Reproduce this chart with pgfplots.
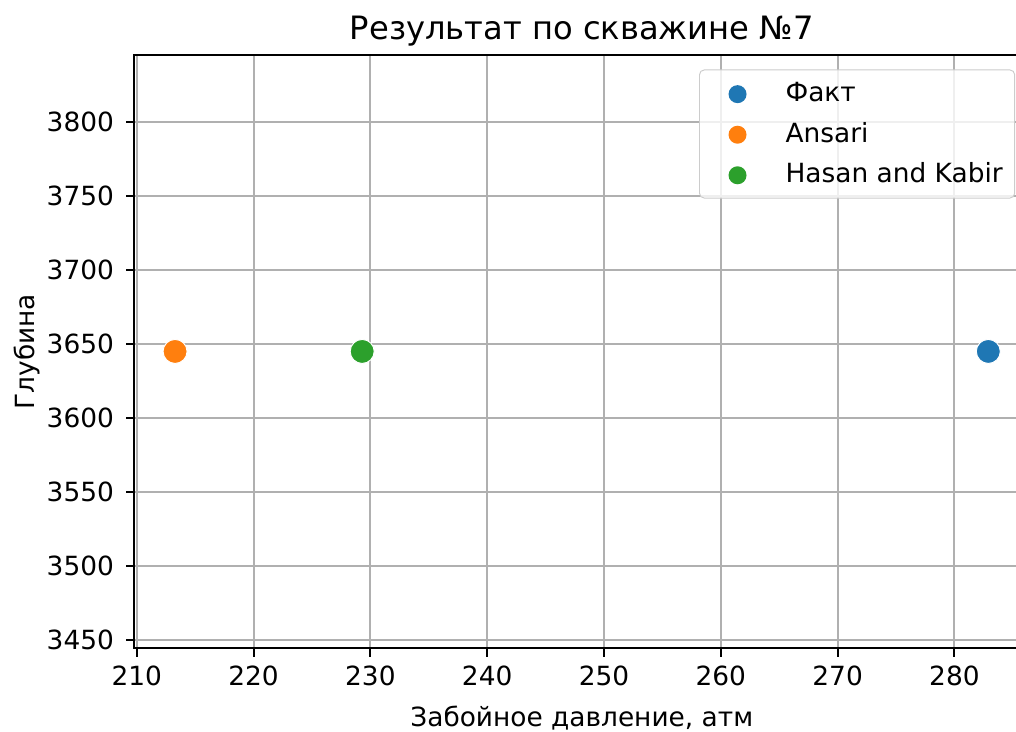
\documentclass[border=0pt]{standalone}
\usepackage{fontspec}
\setmainfont{DejaVu Sans}
\usepackage{pgfplots}
\pgfplotsset{compat=1.18}
\definecolor{tabblue}{HTML}{1F77B4}
\definecolor{taborange}{HTML}{FF7F0E}
\definecolor{tabgreen}{HTML}{2CA02C}
\definecolor{gridgray}{HTML}{B0B0B0}
\begin{document}
\begin{tikzpicture}
\useasboundingbox (-56.0pt,-34.5pt) rectangle (367.3pt,270.1pt);
\clip (-56.0pt,-34.5pt) rectangle (367.3pt,270.1pt);
\begin{axis}[
  at={(0pt,0pt)}, anchor=south west,
  scale only axis,
  width=372.8pt, height=247.1pt,
  xmin=209.8, xmax=286.4,
  ymin=3444.6, ymax=3845.0,
  xtick={210,220,...,280},
  ytick={3450,3500,...,3800},
  grid=major,
  major grid style={color=gridgray, line width=0.8pt},
  axis line style={line width=0.8pt, black},
  tick style={line width=0.8pt, black},
  major tick length=3.5pt,
  tick align=outside,
  xtick pos=bottom, ytick pos=left,
  /pgf/number format/assume math mode=true,
  /pgf/number format/1000 sep={},
  tick label style={font=\fontsize{11}{13}\selectfont},
  xticklabel style={yshift=-0.5pt},
  yticklabel style={xshift=-1.5pt},
  title={Результат по скважине №7},
  title style={at={(axis description cs:0.5,1)}, anchor=base, yshift=0.4pt, font=\fontsize{13.4}{15}\selectfont},
  xlabel={Забойное давление, атм},
  xlabel style={at={(axis description cs:0.5,0)}, anchor=base, yshift=-32.4pt, font=\fontsize{11}{13}\selectfont},
  ylabel={Глубина},
  ylabel style={at={(axis description cs:-0.1111,0.5)}, anchor=base, font=\fontsize{11}{13}\selectfont},
  legend cell align=left,
  legend style={at={(0.631,0.976)}, anchor=north west,
    draw=black!20, rounded corners=2pt, fill=white, fill opacity=0.8, text opacity=1,
    font=\fontsize{11}{13}\selectfont,
    inner xsep=5pt, inner ysep=4.5pt, row sep=6.3pt, column sep=0pt,
    nodes={inner sep=0pt, text height=8.7pt, text depth=1.9pt}},
  legend image code/.code={\path[draw=none,fill=none] (-10.85pt,0pt) -- (20pt,0pt); \fill[#1, draw=none, fill opacity=1] (0pt,-0.3pt) circle (3.75pt);},
]
\addplot[only marks, mark=*, mark size=5pt, color=tabblue, mark options={draw=white, line width=0.4pt, fill=tabblue}] coordinates {(282.9,3645)};
\addlegendentry{Факт}
\addplot[only marks, mark=*, mark size=5pt, color=taborange, mark options={draw=white, line width=0.4pt, fill=taborange}] coordinates {(213.28,3645)};
\addlegendentry{Ansari}
\addplot[only marks, mark=*, mark size=5pt, color=tabgreen, mark options={draw=white, line width=0.4pt, fill=tabgreen}] coordinates {(229.3,3645)};
\addlegendentry{Hasan and Kabir}
\end{axis}
\end{tikzpicture}
\end{document}
